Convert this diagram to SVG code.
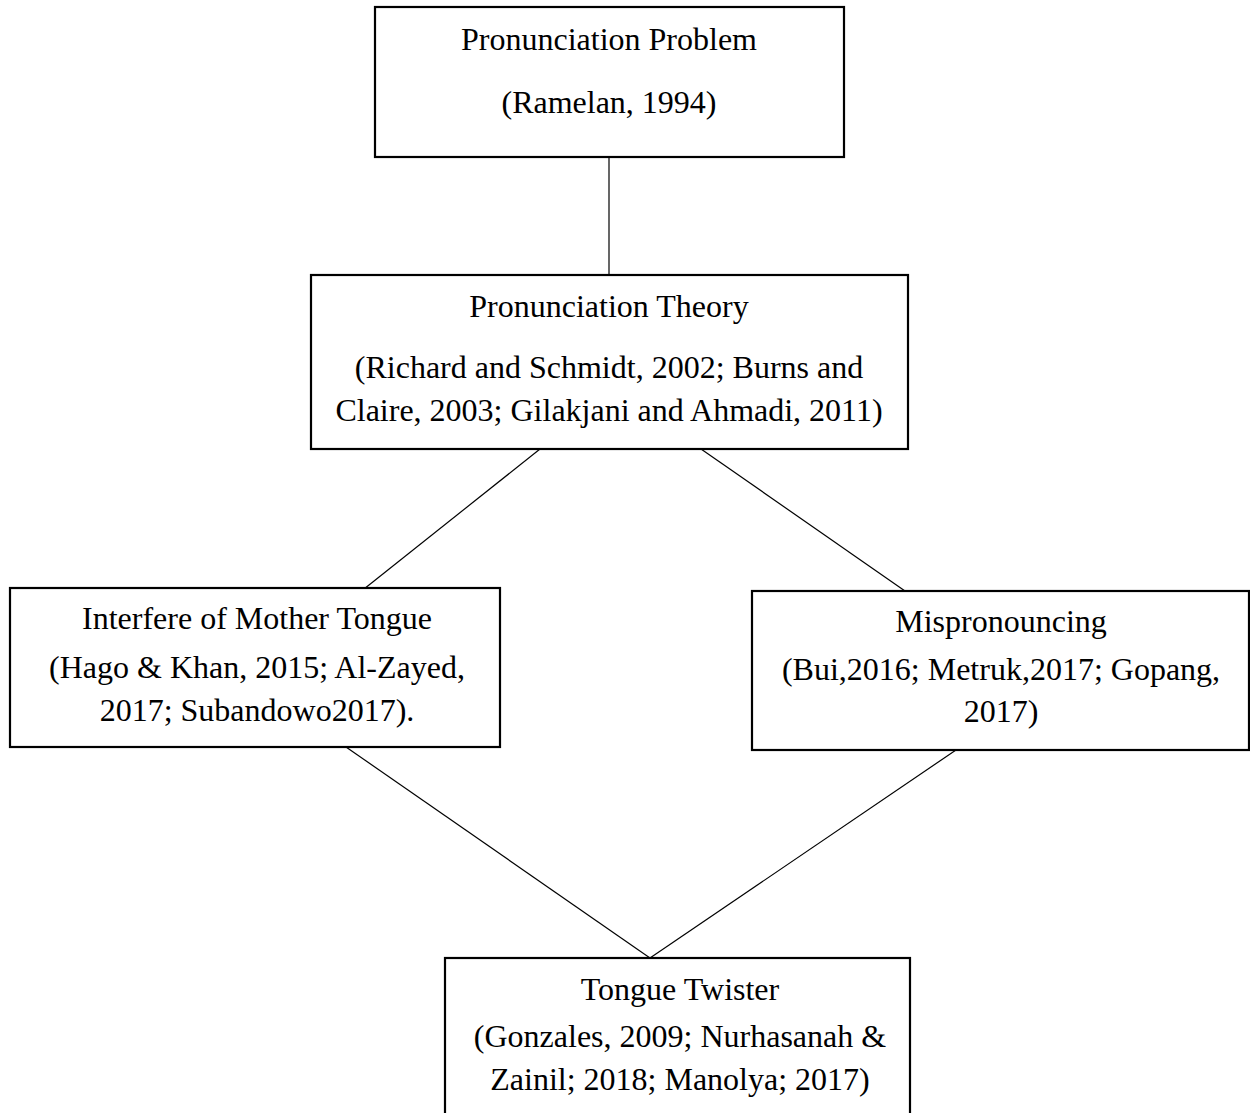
<svg xmlns="http://www.w3.org/2000/svg" width="1250" height="1113" viewBox="0 0 1250 1113">
<style>
.box{fill:#fff;stroke:#000;stroke-width:2.2}
.conn{stroke:#000;stroke-width:1.2;fill:none}
text{font-family:"Liberation Serif","Times New Roman",serif;font-size:32px;fill:#000;text-anchor:middle}
</style>
<rect width="1250" height="1113" fill="#fff"/>
<g id="connectors">
<line class="conn" x1="609" y1="157" x2="609" y2="275"/>
<line class="conn" x1="540" y1="449" x2="364" y2="589"/>
<line class="conn" x1="701" y1="449" x2="905" y2="591"/>
<line class="conn" x1="346" y1="747" x2="650" y2="958"/>
<line class="conn" x1="956" y1="750" x2="650" y2="958"/>
</g>
<g id="node-problem">
<rect class="box" x="375" y="7" width="469" height="150"/>
<text x="609" y="50">Pronunciation Problem</text>
<text x="609" y="113">(Ramelan, 1994)</text>
</g>
<g id="node-theory">
<rect class="box" x="311" y="275" width="597" height="174"/>
<text x="609" y="317">Pronunciation Theory</text>
<text x="609" y="378">(Richard and Schmidt, 2002; Burns and</text>
<text x="609" y="421">Claire, 2003; Gilakjani and Ahmadi, 2011)</text>
</g>
<g id="node-interfere">
<rect class="box" x="10" y="588" width="490" height="159"/>
<text x="257" y="629">Interfere of Mother Tongue</text>
<text x="257" y="678">(Hago &amp; Khan, 2015; Al-Zayed,</text>
<text x="257" y="721">2017; Subandowo2017).</text>
</g>
<g id="node-mispronouncing">
<rect class="box" x="752" y="591" width="497" height="159"/>
<text x="1001" y="632">Mispronouncing</text>
<text x="1001" y="680">(Bui,2016; Metruk,2017; Gopang,</text>
<text x="1001" y="722">2017)</text>
</g>
<g id="node-twister">
<rect class="box" x="445" y="958" width="465" height="170"/>
<text x="680" y="1000">Tongue Twister</text>
<text x="680" y="1047">(Gonzales, 2009; Nurhasanah &amp;</text>
<text x="680" y="1090">Zainil; 2018; Manolya; 2017)</text>
</g>
</svg>
